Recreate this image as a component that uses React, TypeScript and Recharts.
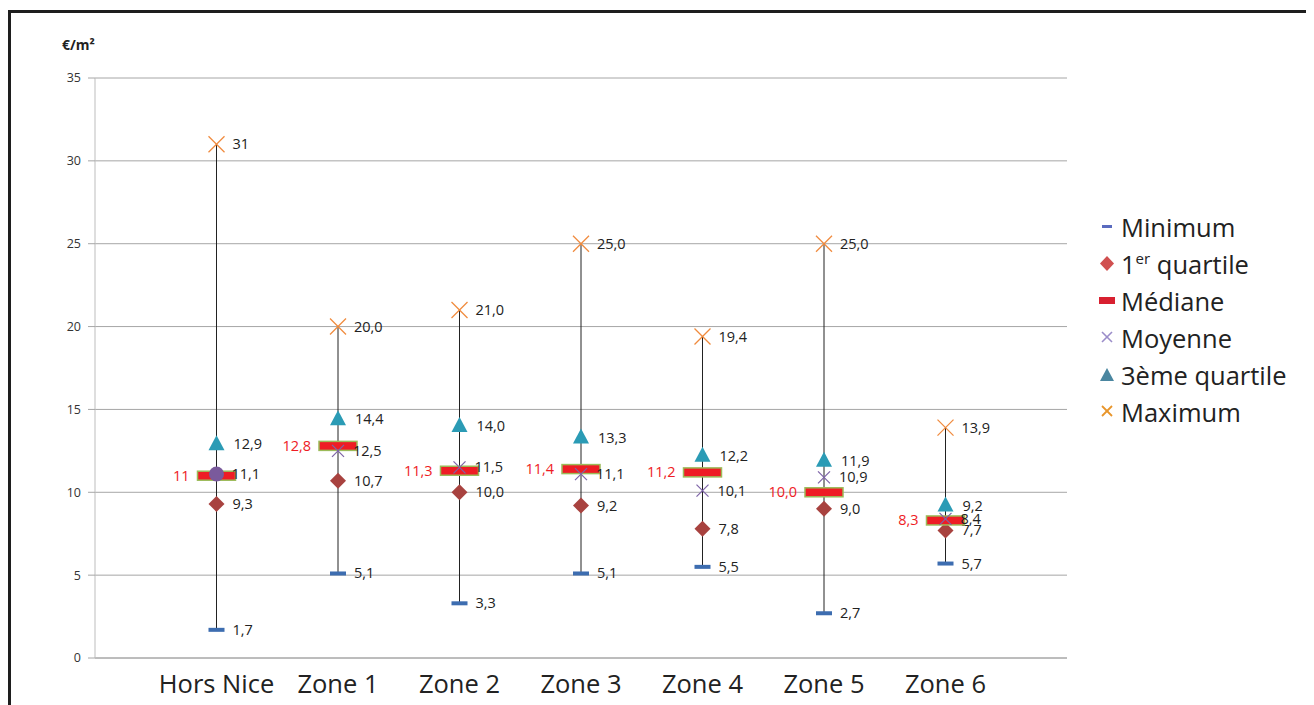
import React from 'react';
import { ComposedChart, Line, XAxis, YAxis, CartesianGrid, ErrorBar } from 'recharts';

const categories = ['Hors Nice', 'Zone 1', 'Zone 2', 'Zone 3', 'Zone 4', 'Zone 5', 'Zone 6'];
const minimum = [1.7, 5.1, 3.3, 5.1, 5.5, 2.7, 5.7];
const quartile1 = [9.3, 10.7, 10.0, 9.2, 7.8, 9.0, 7.7];
const median = [11, 12.8, 11.3, 11.4, 11.2, 10.0, 8.3];
const mean = [11.1, 12.5, 11.5, 11.1, 10.1, 10.9, 8.4];
const quartile3 = [12.9, 14.4, 14.0, 13.3, 12.2, 11.9, 9.2];
const maximum = [31, 20.0, 21.0, 25.0, 19.4, 25.0, 13.9];

const minLabels = ['1,7', '5,1', '3,3', '5,1', '5,5', '2,7', '5,7'];
const q1Labels = ['9,3', '10,7', '10,0', '9,2', '7,8', '9,0', '7,7'];
const medianLabels = ['11', '12,8', '11,3', '11,4', '11,2', '10,0', '8,3'];
const meanLabels = ['11,1', '12,5', '11,5', '11,1', '10,1', '10,9', '8,4'];
const q3Labels = ['12,9', '14,4', '14,0', '13,3', '12,2', '11,9', '9,2'];
const maxLabels = ['31', '20,0', '21,0', '25,0', '19,4', '25,0', '13,9'];

const yTicks = [0, 5, 10, 15, 20, 25, 30, 35];
const circleMeanCategory = 'Hors Nice';

const data = categories.map((name, i) => ({
  x: i + 1,
  name,
  min: minimum[i],
  q1: quartile1[i],
  med: median[i],
  mean: mean[i],
  q3: quartile3[i],
  max: maximum[i],
  err: [0, maximum[i] - minimum[i]],
  minL: minLabels[i],
  q1L: q1Labels[i],
  medL: medianLabels[i],
  meanL: meanLabels[i],
  q3L: q3Labels[i],
  maxL: maxLabels[i],
}));

const FONT = '"Open Sans", "Noto Sans", sans-serif';
const LABEL_SIZE = 14.5;

const Lbl = ({ x, y, text, color = '#222', anchor = 'start' }: any) => (
  <text x={x} y={y} dy={5} fontSize={LABEL_SIZE} fontFamily={FONT} fill={color} textAnchor={anchor}>
    {text}
  </text>
);

const minDot = (p: any) => {
  const { cx, cy, payload, index } = p;
  return (
    <g key={`min-${index}`}>
      <rect x={cx - 8} y={cy - 2} width={16} height={4} fill="#3d6db0" />
      <Lbl x={cx + 16} y={cy} text={payload.minL} />
    </g>
  );
};

const q1Dot = (p: any) => {
  const { cx, cy, payload, index } = p;
  return (
    <g key={`q1-${index}`}>
      <polygon points={`${cx},${cy - 8} ${cx + 8},${cy} ${cx},${cy + 8} ${cx - 8},${cy}`} fill="#a8423f" />
      <Lbl x={cx + 16} y={cy} text={payload.q1L} />
    </g>
  );
};

const medDot = (p: any) => {
  const { cx, cy, payload, index } = p;
  return (
    <g key={`med-${index}`}>
      <rect x={cx - 19} y={cy - 4.5} width={38} height={9} fill="#ee1c25" stroke="#9bbb59" strokeWidth={1.5} />
      <Lbl x={cx - 27} y={cy} text={payload.medL} color="#ee1c25" anchor="end" />
    </g>
  );
};

const meanDot = (p: any) => {
  const { cx, cy, payload, index } = p;
  const s = 6;
  return (
    <g key={`mean-${index}`}>
      {payload.name === circleMeanCategory ? (
        <circle cx={cx} cy={cy} r={7.5} fill="#7a5a9c" />
      ) : (
        <g stroke="#7e64a8" strokeWidth={1.2}>
          <line x1={cx - s} y1={cy - s} x2={cx + s} y2={cy + s} />
          <line x1={cx - s} y1={cy + s} x2={cx + s} y2={cy - s} />
        </g>
      )}
      <Lbl x={cx + 15} y={cy} text={payload.meanL} />
    </g>
  );
};

const q3Dot = (p: any) => {
  const { cx, cy, payload, index } = p;
  return (
    <g key={`q3-${index}`}>
      <polygon points={`${cx},${cy - 9} ${cx + 8},${cy + 6} ${cx - 8},${cy + 6}`} fill="#2b9bb5" />
      <Lbl x={cx + 17} y={cy} text={payload.q3L} />
    </g>
  );
};

const maxDot = (p: any) => {
  const { cx, cy, payload, index } = p;
  const s = 8;
  return (
    <g key={`max-${index}`}>
      <g stroke="#f08a3c" strokeWidth={1.3}>
        <line x1={cx - s} y1={cy - s} x2={cx + s} y2={cy + s} />
        <line x1={cx - s} y1={cy + s} x2={cx + s} y2={cy - s} />
      </g>
      <Lbl x={cx + 16} y={cy} text={payload.maxL} />
    </g>
  );
};

const XTick = (p: any) => {
  const { x, y, payload } = p;
  return (
    <text x={x} y={y} dy={27} textAnchor="middle" fontSize={25.5} fontFamily={FONT} fill="#222">
      {categories[payload.value - 1]}
    </text>
  );
};

const legendItems = [
  { key: 'min', label: 'Minimum' },
  { key: 'q1', label: '1er quartile' },
  { key: 'med', label: 'Médiane' },
  { key: 'mean', label: 'Moyenne' },
  { key: 'q3', label: '3ème quartile' },
  { key: 'max', label: 'Maximum' },
];

const LegendIcon = ({ k }: { k: string }) => {
  let el: any = null;
  if (k === 'min') el = <rect x={3} y={7} width={10} height={3} fill="#5a6bbf" />;
  if (k === 'q1') el = <polygon points="8,1 15,8.5 8,16 1,8.5" fill="#d05050" />;
  if (k === 'med') el = <rect x={0} y={5} width={16} height={7} fill="#d82030" />;
  if (k === 'mean')
    el = (
      <g stroke="#9b8dc9" strokeWidth={1.6}>
        <line x1={3} y1={3} x2={13} y2={13} />
        <line x1={3} y1={13} x2={13} y2={3} />
      </g>
    );
  if (k === 'q3') el = <polygon points="8,2 15,15 1,15" fill="#4a86a0" />;
  if (k === 'max')
    el = (
      <g stroke="#e8952b" strokeWidth={1.8}>
        <line x1={3} y1={3} x2={13} y2={13} />
        <line x1={3} y1={13} x2={13} y2={3} />
      </g>
    );
  return (
    <svg width={17} height={17} style={{ display: 'block' }}>
      {el}
    </svg>
  );
};

export default function App() {
  return (
    <div style={{ position: 'relative', width: 1306, height: 697, fontFamily: FONT }}>
      <div style={{ position: 'absolute', left: 0, top: 2, width: 1306, height: 3, background: '#1e1e1e' }} />
      <div style={{ position: 'absolute', left: 0, top: 2, width: 3, height: 695, background: '#1e1e1e' }} />
      <div
        style={{
          position: 'absolute',
          left: 54,
          top: 27,
          fontSize: 14,
          fontWeight: 'bold',
          color: '#222',
        }}
      >
        €/m²
      </div>
      <div style={{ position: 'absolute', left: 0, top: 0 }}>
        <ComposedChart width={1306} height={697} data={data} margin={{ top: 70, right: 247, bottom: 7, left: 37 }}>
          <CartesianGrid horizontal vertical={false} stroke="#a6a6a6" />
          <XAxis
            type="number"
            dataKey="x"
            domain={[0, 8]}
            ticks={[1, 2, 3, 4, 5, 6, 7]}
            tickLine={false}
            axisLine={{ stroke: '#a6a6a6' }}
            height={40}
            tick={<XTick />}
            interval={0}
          />
          <YAxis
            type="number"
            domain={[0, 35]}
            ticks={yTicks}
            width={50}
            tickSize={7}
            tickMargin={7}
            axisLine={{ stroke: '#bdbdbd' }}
            tickLine={{ stroke: '#a6a6a6' }}
            tick={{ fontSize: 12.5, fill: '#333', fontFamily: FONT }}
            interval={0}
          />
          <Line dataKey="min" stroke="none" dot={false} activeDot={false} isAnimationActive={false}>
            <ErrorBar dataKey="err" direction="y" width={0} stroke="#222" strokeWidth={1} />
          </Line>
          <Line dataKey="max" stroke="none" dot={maxDot} activeDot={false} isAnimationActive={false} />
          <Line dataKey="min" stroke="none" dot={minDot} activeDot={false} isAnimationActive={false} />
          <Line dataKey="q3" stroke="none" dot={q3Dot} activeDot={false} isAnimationActive={false} />
          <Line dataKey="q1" stroke="none" dot={q1Dot} activeDot={false} isAnimationActive={false} />
          <Line dataKey="med" stroke="none" dot={medDot} activeDot={false} isAnimationActive={false} />
          <Line dataKey="mean" stroke="none" dot={meanDot} activeDot={false} isAnimationActive={false} />
        </ComposedChart>
      </div>
      <div style={{ position: 'absolute', left: 1091, top: 200 }}>
        {legendItems.map((it) => (
          <div key={it.key} style={{ display: 'flex', alignItems: 'center', height: 37 }}>
            <LegendIcon k={it.key} />
            <span style={{ marginLeft: 5, fontSize: 25.5, color: '#222', lineHeight: '30px', whiteSpace: 'nowrap' }}>
              {it.key === 'q1' ? (
                <>
                  1<sup style={{ fontSize: 15, verticalAlign: 'top', lineHeight: '18px' }}>er</sup> quartile
                </>
              ) : (
                it.label
              )}
            </span>
          </div>
        ))}
      </div>
    </div>
  );
}
